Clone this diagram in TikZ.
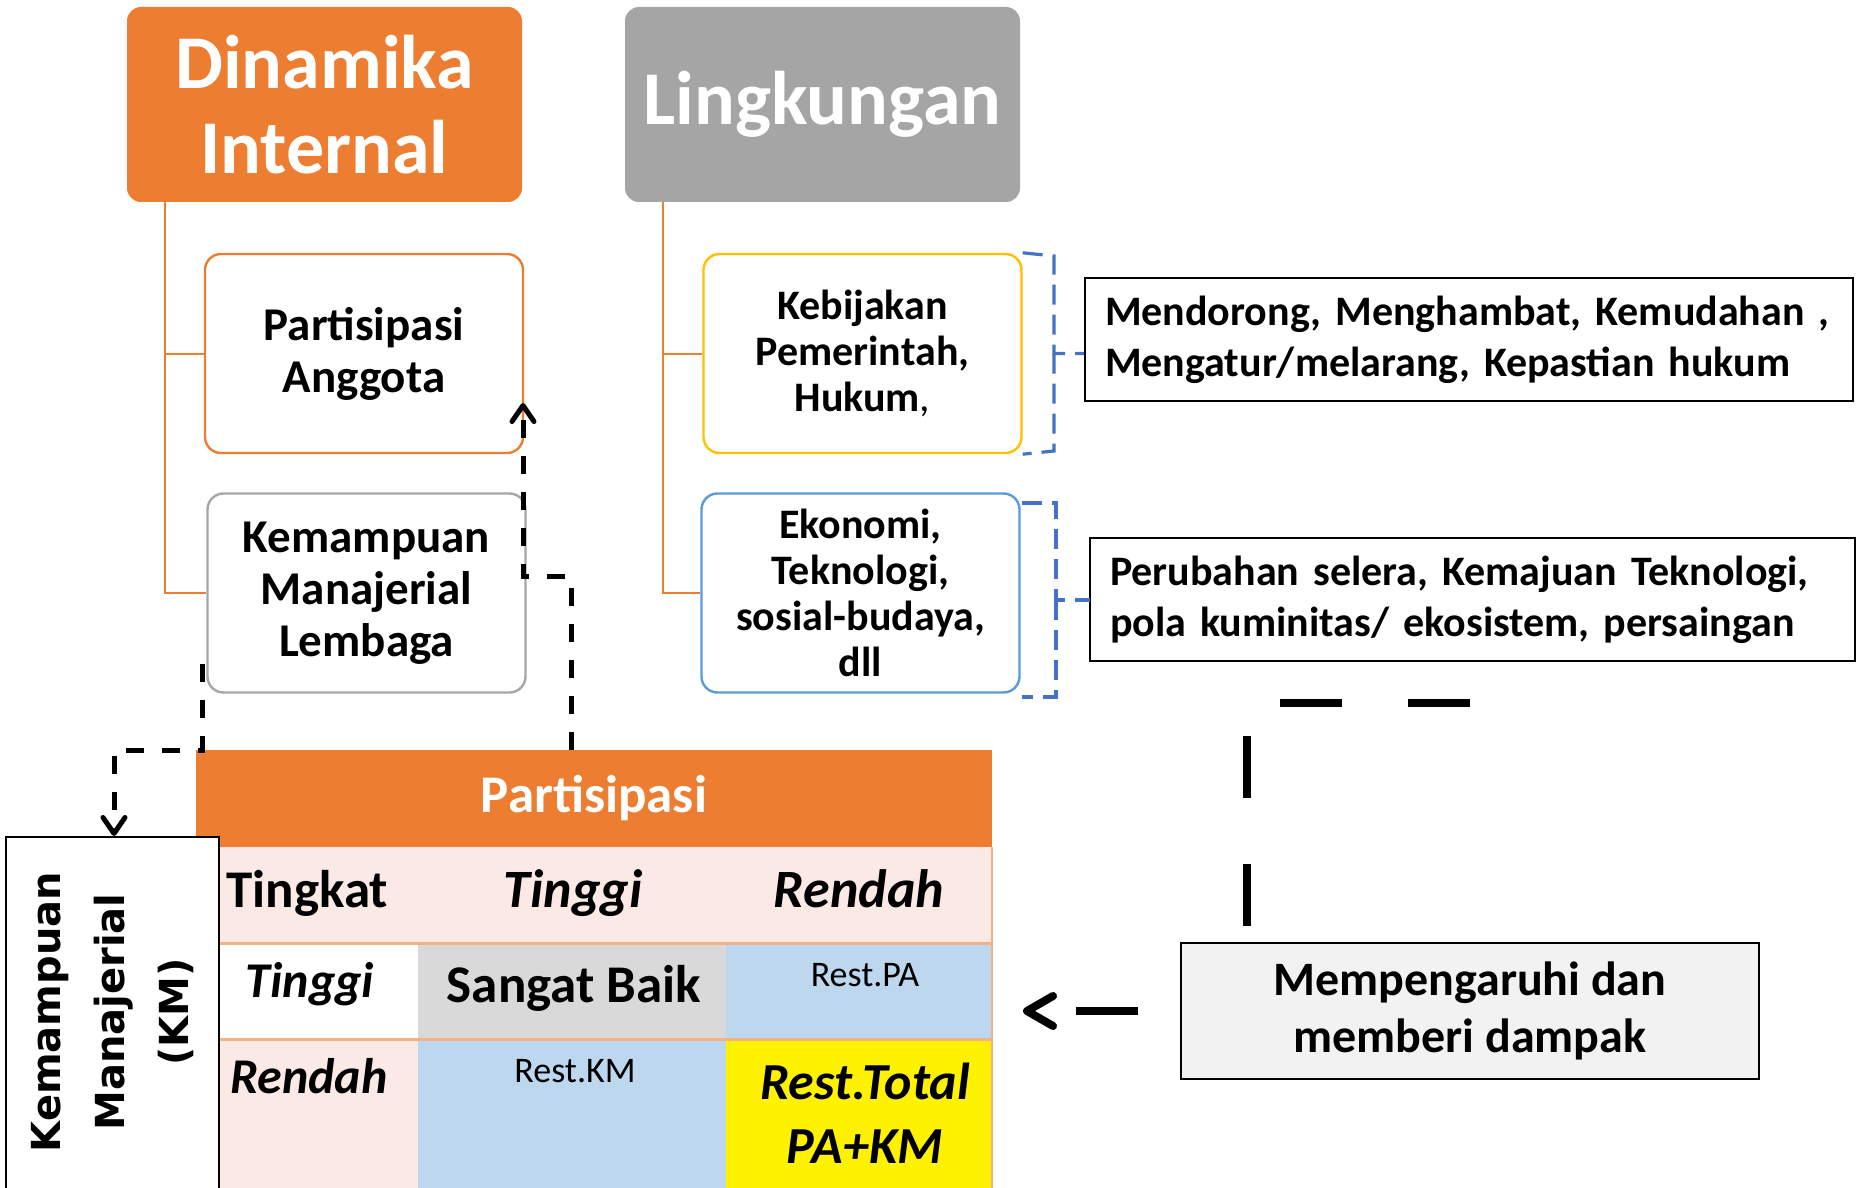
\documentclass[tikz,border=0pt]{standalone}
\usepackage{fontspec}
\setmainfont{Carlito}
\newfontfamily\djv{DejaVu Sans}
\usetikzlibrary{arrows.meta}
\definecolor{orng}{HTML}{ED7D31}
\definecolor{grayhd}{HTML}{A5A5A5}
\definecolor{yelb}{HTML}{FFC000}
\definecolor{blub}{HTML}{5B9BD5}
\definecolor{blud}{HTML}{4472C4}
\definecolor{pinkc}{HTML}{FBE9E5}
\definecolor{bluec}{HTML}{BDD7EE}
\definecolor{grayc}{HTML}{D9D9D9}
\definecolor{lgray}{HTML}{F2F2F2}
\definecolor{rowline}{HTML}{F4B183}
\definecolor{kmlgray}{HTML}{A6A6A6}
\begin{document}
\begin{tikzpicture}[x=0.5pt,y=-0.5pt,
  hdrbox/.style={rounded corners=7pt, text=white, font=\fontsize{38}{42.5}\selectfont\bfseries,
    align=center, minimum width=197.5pt, minimum height=97.5pt, inner sep=0pt},
  subbox/.style={draw, line width=1.2pt, rounded corners=8pt, fill=white, align=center,
    minimum width=159pt, minimum height=99.5pt, inner sep=0pt},
  bigsub/.style={subbox, font=\fontsize{23.5}{26}\selectfont\bfseries},
  smallsub/.style={subbox, font=\fontsize{21}{23}\selectfont\bfseries},
  tree/.style={orng, line width=1pt},
  infobox/.style={draw=black, line width=1pt, align=left, inner ysep=0pt, inner xsep=10pt,
    minimum height=61.5pt, font=\fontsize{21}{25.5}\selectfont\bfseries},
  bracesty/.style={blud, line width=1.6pt, dash pattern=on 10pt off 5pt},
  blkdash/.style={black, line width=2.5pt, dash pattern=on 9pt off 9pt,
    -{Straight Barb[length=8pt,width=11pt,round]}},
  bigdash/.style={black, line width=4pt},
  tbold/.style={inner sep=0pt, font=\fontsize{26.5}{30}\selectfont\bfseries},
  tital/.style={inner sep=0pt, font=\fontsize{27}{30}\selectfont\bfseries\itshape},
  tsmall/.style={inner sep=0pt, font=\fontsize{18}{21}\selectfont},
]
\useasboundingbox (0,0) rectangle (1860,1188);

% header boxes
\node[hdrbox, fill=orng] (dyn) at (324.5,104.5) {Dinamika\\Internal};
\node[hdrbox, fill=grayhd] (env) at (822.5,104.5) {Lingkungan};

% sub boxes
\node[bigsub, draw=orng] (pa) at (364,353.5) {Partisipasi\\Anggota};
\node[bigsub, draw=kmlgray] (kml) at (366.5,593) {Kemampuan\\Manajerial\\Lembaga};
\node[smallsub, draw=yelb] (keb) at (862.5,353.5) {Kebijakan\\Pemerintah,\\Hukum{\mdseries,}};
\node[smallsub, draw=blub] (eko) at (860.5,593) {Ekonomi,\\Teknologi,\\sosial-budaya,\\dll};

% tree connectors
\coordinate (t1) at ([xshift=19pt]dyn.south west);
\draw[tree] (t1) |- (pa.west);
\draw[tree] (t1) |- (kml.west);
\coordinate (t2) at ([xshift=19pt]env.south west);
\draw[tree] (t2) |- (keb.west);
\draw[tree] (t2) |- (eko.west);

% info boxes
\node[infobox, text width=364pt] (mend) at (1469,339.5)
  {Mendorong, Menghambat, Kemudahan ,\\Mengatur/melarang, Kepastian hukum};
\node[infobox, text width=362.5pt] (peru) at (1472.5,599.5)
  {Perubahan selera, Kemajuan Teknologi,\\pola kuminitas/ ekosistem, persaingan};

% braces
\draw[bracesty] (keb.north east) -- (1054,256) -- (1054,353.5) -- (mend.west |- keb.east);
\draw[bracesty] (1054,353.5) -- (1054,451) -- (keb.south east);
\draw[bracesty] (1022,503) -- (1056,503) -- (1056,600) -- (1090,600);
\draw[bracesty] (1056,600) -- (1056,697) -- (1022,697);

% table
\node[fill=orng, minimum width=398pt, minimum height=48.5pt, inner sep=0pt, text=white,
  font=\fontsize{26.5}{30}\selectfont\bfseries] (thead) at (594,798.5) {Partisipasi};
\fill[pinkc] (219,847) rectangle (992,943);
\fill[grayc] (418,943) rectangle (726,1039);
\fill[bluec] (726,943) rectangle (992,1039);
\fill[pinkc] (219,1039) rectangle (418,1200);
\fill[bluec] (418,1039) rectangle (726,1200);
\fill[yellow] (726,1039) rectangle (992,1200);
\draw[rowline, line width=1.5pt] (219,943) -- (992,943);
\draw[rowline, line width=1.5pt] (219,1039) -- (992,1039);
\draw[rowline, line width=1pt] (992,847) -- (992,1200);

\node[tbold, anchor=base west] (tingkat) at (226,907) {Tingkat};
\node[tital, anchor=base] (ctinggi) at (573,907) {Tinggi};
\node[tital, anchor=base] (crendah) at (859,907) {Rendah};
\node[tital, anchor=base, font=\fontsize{25}{30}\selectfont\bfseries\itshape] (rtinggi) at (310,997) {Tinggi};
\node[tbold, anchor=base] (sb) at (574,1002) {Sangat Baik};
\node[tsmall, anchor=base] (rpa) at (865,986) {Rest.PA};
\node[tital, anchor=base, font=\fontsize{25}{30}\selectfont\bfseries\itshape] (rrendah) at (309,1093) {Rendah};
\node[tsmall, anchor=base] (rkm) at (575,1082) {Rest.KM};
\node[inner sep=0pt, align=center, font=\fontsize{26}{32}\selectfont\bfseries\itshape] (rtot) at (865,1113) {Rest.Total\\PA+KM};

% KM side box
\node[draw=black, fill=white, line width=1pt, minimum width=106.5pt, minimum height=179pt, inner sep=0pt] (km) at (112.5,1016) {};
\node[rotate=90, align=center, inner sep=0pt, font=\djv\fontsize{20}{32}\selectfont\bfseries] (kmt) at (113,1012) {Kemampuan\\Manajerial\\(KM)};

% influence box
\node[draw=black, fill=lgray, line width=1pt, minimum width=289pt, minimum height=68pt, align=center,
  inner sep=0pt, font=\fontsize{24}{28.5}\selectfont\bfseries] (memp) at (1470,1011) {Mempengaruhi dan\\memberi dampak};

% dashed arrows
\coordinate (a1) at (202,664);
\coordinate (a1b) at (202,750);
\coordinate (a1c) at (114,750);
\draw[blkdash] (a1) -- (a1b) -- (a1c) -- (km.north -| a1c);
\coordinate (a2) at ([xshift=-11.5pt]thead.north);
\coordinate (a2b) at (571,576);
\coordinate (a2c) at (523,576);
\coordinate (a2d) at (523,403);
\draw[blkdash] (a2) -- (a2b) -- (a2c) -- (a2d);

% big dashed lines
\coordinate (bA) at (memp.north -| 1247,0);
\coordinate (bB) at (1247,703);
\coordinate (bC) at (1471,703);
\draw[bigdash, dash pattern=on 31pt off 33pt, dash phase=56pt] (bA) -- (bB) -- (bC);
\coordinate (bT) at (1023,1011);
\draw[bigdash, dash pattern=on 31pt off 33pt, dash phase=43pt,
  -{Straight Barb[length=13pt,width=15pt,round]}] (memp.west) -- (bT);
\end{tikzpicture}
\end{document}
